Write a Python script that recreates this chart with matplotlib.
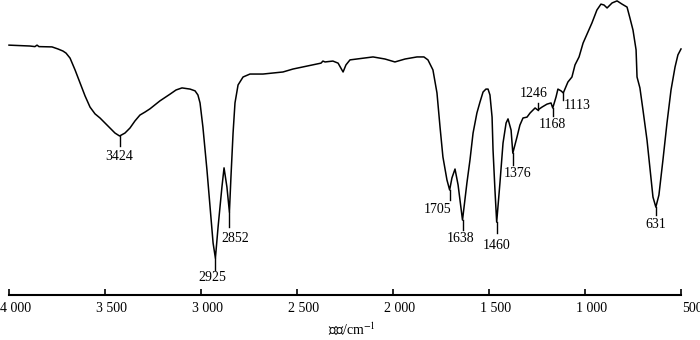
import numpy as np
import matplotlib.pyplot as plt
from matplotlib.transforms import ScaledTranslation

# IR spectrum (wavenumber in cm-1, transmittance in %)
wavenumber = [4000, 3891, 3865, 3854, 3844, 3776, 3745, 3719, 3703, 3682,
              3656, 3630, 3604, 3578, 3552, 3526, 3500, 3474, 3448, 3424,
              3396, 3370, 3344, 3318, 3292, 3266, 3214, 3161, 3130, 3099,
              3057, 3031, 3016, 3005, 2990, 2969, 2953, 2937, 2925, 2911,
              2891, 2880, 2865, 2852, 2844, 2833, 2823, 2807, 2781, 2745,
              2677, 2573, 2521, 2417, 2375, 2365, 2354, 2313, 2286, 2260,
              2245, 2224, 2104, 2042, 1990, 1937, 1875, 1839, 1818, 1792,
              1771, 1755, 1740, 1719, 1705, 1693, 1677, 1661, 1638, 1615,
              1599, 1583, 1563, 1547, 1531, 1516, 1505, 1495, 1484, 1479,
              1469, 1460, 1443, 1427, 1411, 1401, 1385, 1376, 1354, 1339,
              1323, 1302, 1286, 1260, 1246, 1224, 1198, 1177, 1168, 1151,
              1141, 1125, 1113, 1089, 1068, 1052, 1031, 1010, 984, 964,
              938, 917, 901, 885, 859, 833, 807, 781, 766, 750,
              734, 729, 714, 698, 677, 661, 646, 631, 615, 594,
              573, 552, 531, 516, 500]
transmittance = [84.7, 84.4, 84.2, 84.7, 84.2, 84.1, 83.4, 82.7, 82.0, 80.3,
                 76.3, 71.9, 67.5, 63.7, 61.4, 60.0, 58.3, 56.6, 54.9, 53.9,
                 54.9, 56.6, 59.0, 61.0, 62.0, 63.1, 65.8, 68.1, 69.5, 70.2,
                 69.8, 69.2, 67.8, 65.1, 56.9, 42.4, 29.8, 17.6, 12.5, 23.1,
                 36.6, 43.1, 36.6, 28.1, 40.0, 54.9, 65.1, 71.2, 73.9, 74.9,
                 74.9, 75.6, 76.6, 78.0, 78.6, 79.3, 79.0, 79.3, 78.6, 75.6,
                 78.0, 79.7, 80.7, 80.0, 79.0, 80.0, 80.7, 80.7, 79.7, 76.3,
                 68.5, 56.9, 46.8, 39.0, 35.6, 39.7, 42.7, 37.3, 25.4, 38.0,
                 45.8, 54.9, 61.7, 65.4, 68.8, 69.8, 69.8, 67.8, 60.3, 49.2,
                 35.6, 24.7, 38.0, 51.5, 58.3, 59.7, 55.9, 48.1, 53.6, 57.6,
                 60.0, 60.3, 61.7, 63.4, 62.7, 63.7, 64.7, 65.1, 63.4, 67.1,
                 69.8, 69.2, 68.5, 72.2, 73.9, 78.0, 80.7, 85.4, 89.2, 92.2,
                 96.6, 98.6, 98.3, 97.3, 99.0, 99.7, 98.6, 97.6, 93.9, 89.8,
                 83.1, 73.9, 70.2, 62.7, 52.5, 42.4, 33.2, 29.8, 33.9, 45.8,
                 58.3, 69.5, 77.3, 81.4, 83.4]

peak_wn = [3424, 2925, 2852, 1705, 1638, 1460, 1376, 1246, 1168, 1113, 631]
peak_labels = ['3424', '2925', '2852', '1705', '1638', '1460', '1376',
               '1246', '1168', '1113', '631']
# label offset (px) and tick length (px, negative = upward)
label_off = [(0, -21), (-3, -19), (6, -26), (-12, -20), (-2, -18), (0, -23),
             (5, -20), (-4, 17), (0, -17), (14, -13), (0, -17)]
tick_px = [10, 12, 15, 10, 10, 11, 12, -7, 8, 7, 8]

tick_pos = [4000, 3500, 3000, 2500, 2000, 1500, 1000, 500]
tick_text = ['4 000', '3 500', '3 000', '2 500', '2 000', '1 500', '1 000', '500']

plt.rcParams['font.family'] = ['Liberation Serif', 'Noto Sans CJK SC']
plt.rcParams['mathtext.fontset'] = 'stix'

fig = plt.figure(figsize=(7, 3.4), dpi=100)
ax = fig.add_axes([9/700, 45/340, 672/700, 295/340])
ax.plot(wavenumber, transmittance, color='black', lw=1.1, clip_on=False)
ax.set_xlim(4000, 500)
ax.set_ylim(0, 100)

per_px = 100/295
wn_rev = np.array(wavenumber[::-1])
tr_rev = np.array(transmittance[::-1])
for w, lab, (dx, dy), L in zip(peak_wn, peak_labels, label_off, tick_px):
    t = np.interp(w, wn_rev, tr_rev)
    ax.plot([w, w], [t, t - L*per_px], color='black', lw=1.0, clip_on=False)
    ax.annotate(lab, (w, t), xytext=(dx, dy), textcoords='offset pixels',
                ha='center', va='center', fontsize=10)

for s in ['left', 'top', 'right']:
    ax.spines[s].set_visible(False)
ax.spines['bottom'].set_linewidth(1.5)
ax.set_yticks([])
ax.set_xticks(tick_pos)
ax.set_xticklabels(tick_text)
ax.tick_params(axis='x', direction='in', length=4, width=1.2, labelsize=10, pad=5)
shift = ScaledTranslation(22/100, 0, fig.dpi_scale_trans)
for lab in ax.get_xticklabels():
    lab.set_horizontalalignment('right')
    lab.set_transform(lab.get_transform() + shift)

fig.text(352/700, 1 - 330/340, '波数/cm$^{-1}$', ha='center', va='center', fontsize=10)

fig.savefig('out.png', dpi=100)
